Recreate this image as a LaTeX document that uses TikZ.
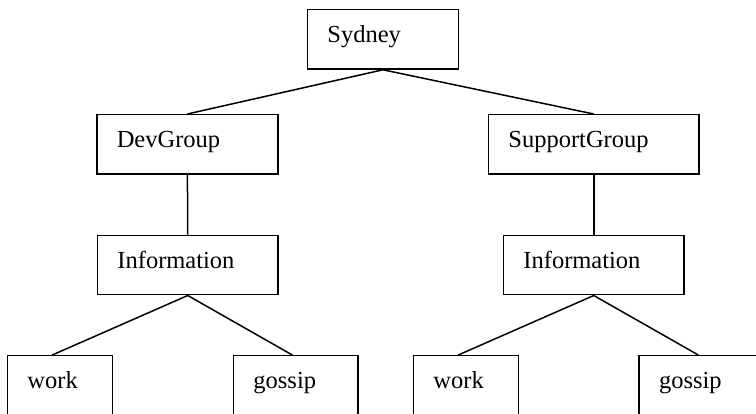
\documentclass[tikz,border=0pt]{standalone}
\usepackage{fontspec}
\setmainfont{Liberation Serif}
\usetikzlibrary{positioning}
\tikzset{
  box/.style={draw, line width=1.5pt, anchor=north west, inner xsep=20pt, inner ysep=0pt,
    align=left, minimum height=59.3pt, text height=17pt, text depth=10.3pt,
    font=\fontsize{24.5}{29}\selectfont},
  lowbox/.style={box, minimum height=80pt, text height=6pt, text depth=20pt},
  link/.style={line width=1.5pt}
}
\begin{document}
\begin{tikzpicture}[x=1pt, y=-1pt]
\useasboundingbox (0,0) rectangle (756,414);
\clip (0,0) rectangle (756,414);
\node[box, text width=111pt] (syd) at (306.7,9) {Sydney};
\node[box, text width=141.3pt] (dev) at (96,114) {DevGroup};
\node[box, text width=170.6pt] (sup) at (487.7,114) {SupportGroup};
\node[box, text width=140.6pt] (infoL) at (96.7,234.7) {Information};
\node[box, text width=140.6pt] (infoR) at (502.7,234.7) {Information};
\node[lowbox, text width=65pt] (workL) at (6.7,355) {work};
\node[lowbox, text width=84.6pt] (gossL) at (232.7,355) {gossip};
\node[lowbox, text width=65pt] (workR) at (412.7,355) {work};
\node[lowbox, text width=85pt] (gossR) at (638.3,355) {gossip};
\draw[link] (syd.south) -- (dev.north);
\draw[link] (syd.south) -- (sup.north);
\draw[link] (dev.south) -- (infoL.north);
\draw[link] (sup.south) -- (infoR.north);
\draw[link] (infoL.south) -- ([xshift=45.6pt]workL.north west);
\draw[link] (infoL.south) -- ([xshift=59.6pt]gossL.north west);
\draw[link] (infoR.south) -- ([xshift=45.6pt]workR.north west);
\draw[link] (infoR.south) -- ([xshift=60pt]gossR.north west);
\end{tikzpicture}
\end{document}
